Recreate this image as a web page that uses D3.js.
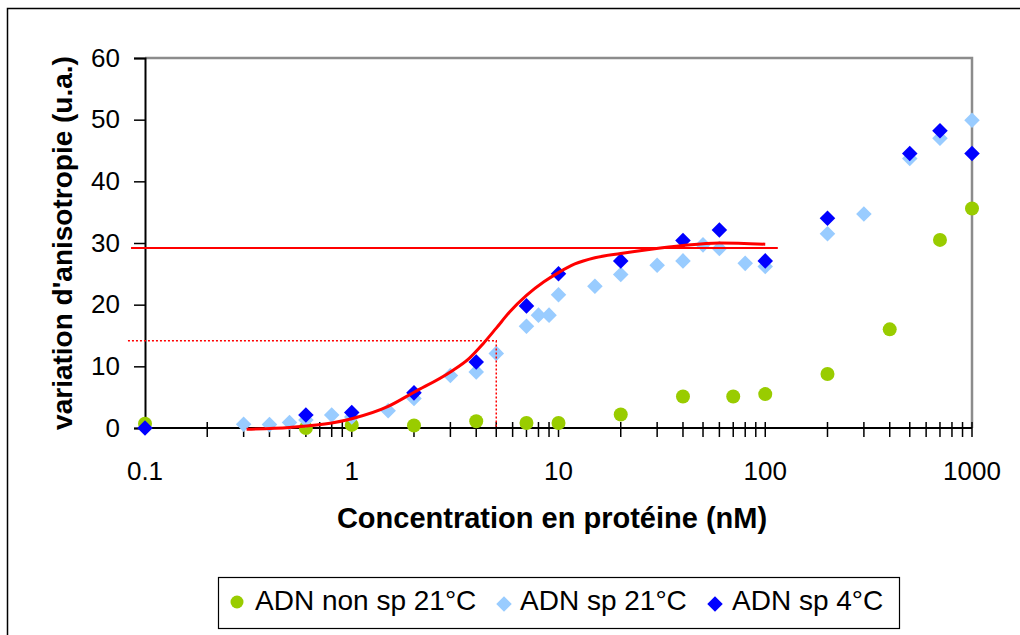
<!DOCTYPE html>
<html><head><meta charset="utf-8">
<script src="https://cdn.jsdelivr.net/npm/d3@7"></script>
<style>body{margin:0;background:#fff}svg{display:block}text{font-family:"Liberation Sans",Arial,sans-serif;fill:#000}</style>
</head><body>
<script>
// ---- data ----
const nonSpX = [0.1, 0.6, 1, 2, 4, 7, 10, 20, 40, 70, 100, 200, 400, 700, 1000];
const nonSpY = [0.7, 0.0, 0.5, 0.4, 1.1, 0.8, 0.8, 2.2, 5.1, 5.1, 5.5, 8.75, 16.0, 30.5, 35.6];
const sp21X = [0.3, 0.4, 0.5, 0.6, 0.8, 1, 1.5, 2, 3, 4, 5, 7, 8, 9, 10, 15, 20, 30, 40, 50, 60, 80, 100, 200, 300, 500, 700, 1000];
const sp21Y = [0.6, 0.55, 0.9, 1.3, 2.1, 1.8, 2.8, 4.8, 8.5, 9.1, 12.1, 16.5, 18.3, 18.3, 21.6, 23.0, 24.9, 26.4, 27.1, 29.7, 29.1, 26.7, 26.2, 31.5, 34.7, 43.7, 47.0, 49.9];
const sp4X = [0.1, 0.6, 1, 2, 4, 7, 10, 20, 40, 60, 100, 200, 500, 700, 1000];
const sp4Y = [0.0, 2.1, 2.5, 5.7, 10.7, 19.8, 25.0, 27.1, 30.4, 32.1, 27.1, 34.0, 44.5, 48.2, 44.5];
const fitX = [0.31, 0.5, 0.8, 1, 1.5, 2, 3, 3.7, 4.3, 5, 5.8, 7, 8.5, 10, 12, 15, 20, 28, 40, 60, 100];
const fitY = [-0.2, 0.1, 0.8, 1.5, 3.5, 5.8, 9.1, 11.3, 13.6, 16.2, 18.8, 21.5, 23.7, 25.2, 26.6, 27.6, 28.3, 29.0, 29.6, 30.0, 29.8];
const plateauY = 29.2, plateauX = [0.0856, 115];
const halfY = 14.15, halfX = 5, halfStartX = 0.0827;
const xTickLabels = ["0.1", "1", "10", "100", "1000"];
const yTickValues = [0, 10, 20, 30, 40, 50, 60];
const seriesNames = ["ADN non sp 21°C", "ADN sp 21°C", "ADN sp 4°C"];
const colors = {nonSp: "#99CC00", sp21: "#99CCFF", sp4: "#0000FF", fit: "#FF0000"};

const W = 1020, H = 635;
const svg = d3.select("body").append("svg").attr("width", W).attr("height", H);
svg.append("rect").attr("width", W).attr("height", H).attr("fill", "#fff");
svg.append("rect").attr("x", 7.5).attr("y", 8.5).attr("width", 1100).attr("height", 700)
  .attr("fill", "none").attr("stroke", "#000").attr("stroke-width", 1.5);

const x = d3.scaleLog().domain([0.1, 1000]).range([145, 972]);
const y = d3.scaleLinear().domain([0, 60]).range([428, 58]);

// plot border (top/right gray)
svg.append("path").attr("d", `M145,58H972V428`).attr("fill", "none").attr("stroke", "#8c8c8c").attr("stroke-width", 2.5);

// y axis
const yAxis = d3.axisLeft(y).tickValues(yTickValues).tickSize(11).tickPadding(14).tickFormat(d3.format("d"));
const gy = svg.append("g").attr("transform", "translate(145,0)").call(yAxis);
gy.select(".domain").attr("stroke-width", 2);
gy.selectAll(".tick line").attr("stroke-width", 1.5);
gy.selectAll("text").attr("font-size", 26).attr("font-family", "Liberation Sans, Arial, sans-serif");

// x axis with crossing ticks
const xTicks = [];
for (let e = -1; e < 3; e++) for (let m = 1; m <= 9; m++) xTicks.push(m * Math.pow(10, e));
xTicks.push(1000);
const gx = svg.append("g");
gx.append("line").attr("x1", 145).attr("x2", 972).attr("y1", 428).attr("y2", 428).attr("stroke", "#000").attr("stroke-width", 2);
gx.selectAll("line.t").data(xTicks.slice(1)).join("line").attr("class", "t")
  .attr("x1", d => x(d)).attr("x2", d => x(d)).attr("y1", 422).attr("y2", 437)
  .attr("stroke", "#000").attr("stroke-width", 1.5);
gx.selectAll("text").data(xTickLabels).join("text")
  .attr("x", d => x(+d)).attr("y", 480).attr("text-anchor", "middle").attr("font-size", 26).text(d => d);

// axis titles
svg.append("text").attr("x", 552).attr("y", 528).attr("text-anchor", "middle")
  .attr("font-size", 29).attr("font-weight", "bold").text("Concentration en protéine (nM)");
svg.append("text").attr("transform", "translate(72,243) rotate(-90)").attr("text-anchor", "middle")
  .attr("font-size", 28).attr("font-weight", "bold").text("variation d'anisotropie (u.a.)");

// series
function drawDiamonds(xs, ys, col) {
  svg.append("g").selectAll("rect").data(xs.map((v, i) => [v, ys[i]])).join("rect")
    .attr("x", -5.5).attr("y", -5.5).attr("width", 11).attr("height", 11)
    .attr("transform", d => `translate(${x(d[0])},${y(d[1])}) rotate(45)`)
    .attr("fill", col);
}
svg.append("g").selectAll("circle").data(nonSpX.map((v, i) => [v, nonSpY[i]])).join("circle")
  .attr("cx", d => x(d[0])).attr("cy", d => y(d[1])).attr("r", 7).attr("fill", colors.nonSp);
drawDiamonds(sp21X, sp21Y, colors.sp21);
drawDiamonds(sp4X, sp4Y, colors.sp4);

// fit curve and reference lines
svg.append("path").datum(fitX.map((v, i) => [v, fitY[i]]))
  .attr("d", d3.line().x(d => x(d[0])).y(d => y(d[1])).curve(d3.curveMonotoneX))
  .attr("fill", "none").attr("stroke", colors.fit).attr("stroke-width", 3);
svg.append("line").attr("x1", x(plateauX[0])).attr("x2", x(plateauX[1])).attr("y1", y(plateauY)).attr("y2", y(plateauY))
  .attr("stroke", colors.fit).attr("stroke-width", 2);
svg.append("path").attr("d", `M${x(halfStartX)},${y(halfY)}H${x(halfX)}V${y(0)}`)
  .attr("fill", "none").attr("stroke", colors.fit).attr("stroke-width", 1.5).attr("stroke-dasharray", "2,2");

// legend
const lg = svg.append("g");
lg.append("rect").attr("x", 218.5).attr("y", 577.5).attr("width", 681).attr("height", 51)
  .attr("fill", "#fff").attr("stroke", "#000").attr("stroke-width", 1.2);
lg.append("circle").attr("cx", 237).attr("cy", 602).attr("r", 6.5).attr("fill", colors.nonSp);
lg.append("rect").attr("x", -5.5).attr("y", -5.5).attr("width", 11).attr("height", 11)
  .attr("transform", "translate(504,604) rotate(45)").attr("fill", colors.sp21);
lg.append("rect").attr("x", -5.5).attr("y", -5.5).attr("width", 11).attr("height", 11)
  .attr("transform", "translate(715,604) rotate(45)").attr("fill", colors.sp4);
const lx = [255, 520, 732];
lg.selectAll("text").data(seriesNames).join("text")
  .attr("x", (d, i) => lx[i]).attr("y", 610).attr("font-size", 28).text(d => d);
</script>
</body></html>
